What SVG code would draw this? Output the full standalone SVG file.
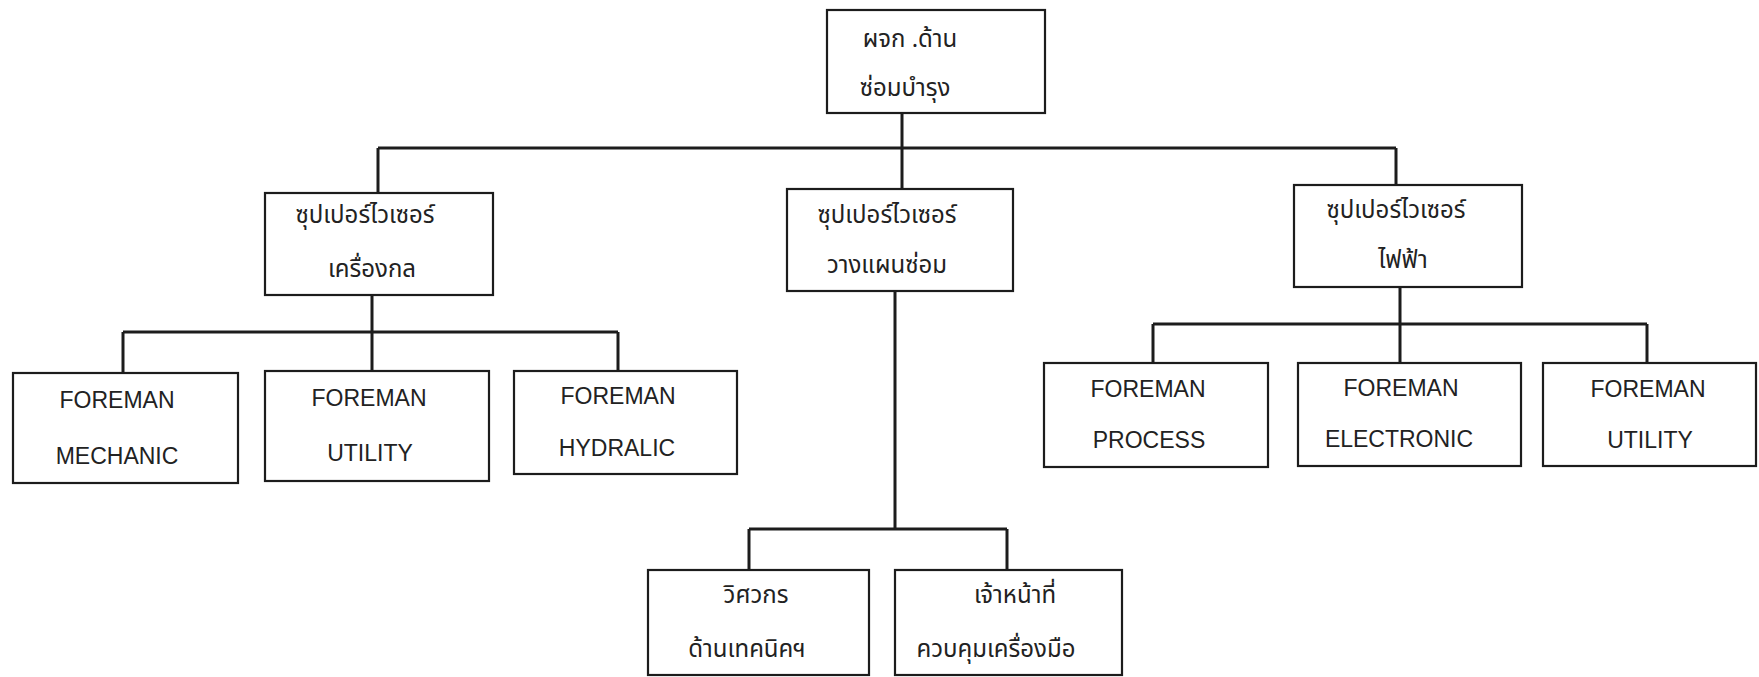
<svg xmlns="http://www.w3.org/2000/svg" width="1759" height="677" viewBox="0 0 1759 677">
<style>
.box{fill:none;stroke:#1c1c1c;stroke-width:2.2}
.con{fill:none;stroke:#1c1c1c;stroke-width:3}
.en{font-family:"Liberation Sans",Arial,sans-serif;font-size:23px;fill:#222;text-anchor:middle}
.th{font-family:"Noto Sans Thai","Noto Sans","Liberation Sans",sans-serif;font-size:24px;fill:#222;text-anchor:middle}
</style>
<rect x="0" y="0" width="1759" height="677" fill="#ffffff"/>
<g id="connectors">
<path class="con" d="M902 113V148M378 148H1396M378 148V193M902 148V189M1396 148V185"/>
<path class="con" d="M372 295V371M123 332H618M123 332V373M618 332V371"/>
<path class="con" d="M1400 287V363M1153 324H1647M1153 324V363M1647 324V363"/>
<path class="con" d="M895 291V529M749 529H1007M749 529V570M1007 529V570"/>
</g>
<g id="n-top"><rect class="box" x="827" y="10" width="218" height="103"/><text class="th" x="910" y="47">ผจก .ด้าน</text><text class="th" x="905" y="96">ซ่อมบำรุง</text></g>
<g id="n-sup-mech"><rect class="box" x="265" y="193" width="228" height="102"/><text class="th" x="365" y="223">ซุปเปอร์ไวเซอร์</text><text class="th" x="372" y="277">เครื่องกล</text></g>
<g id="n-sup-plan"><rect class="box" x="787" y="189" width="226" height="102"/><text class="th" x="887" y="223">ซุปเปอร์ไวเซอร์</text><text class="th" x="887" y="273">วางแผนซ่อม</text></g>
<g id="n-sup-elec"><rect class="box" x="1294" y="185" width="228" height="102"/><text class="th" x="1396" y="218">ซุปเปอร์ไวเซอร์</text><text class="th" x="1403" y="268">ไฟฟ้า</text></g>
<g id="n-fm-mechanic"><rect class="box" x="13" y="373" width="225" height="110"/><text class="en" x="117" y="408">FOREMAN</text><text class="en" x="117" y="464">MECHANIC</text></g>
<g id="n-fm-utility1"><rect class="box" x="265" y="371" width="224" height="110"/><text class="en" x="369" y="406">FOREMAN</text><text class="en" x="370" y="461">UTILITY</text></g>
<g id="n-fm-hydralic"><rect class="box" x="514" y="371" width="223" height="103"/><text class="en" x="618" y="404">FOREMAN</text><text class="en" x="617" y="456">HYDRALIC</text></g>
<g id="n-fm-process"><rect class="box" x="1044" y="363" width="224" height="104"/><text class="en" x="1148" y="397">FOREMAN</text><text class="en" x="1149" y="448">PROCESS</text></g>
<g id="n-fm-electronic"><rect class="box" x="1298" y="363" width="223" height="103"/><text class="en" x="1401" y="396">FOREMAN</text><text class="en" x="1399" y="447">ELECTRONIC</text></g>
<g id="n-fm-utility2"><rect class="box" x="1543" y="363" width="213" height="103"/><text class="en" x="1648" y="397">FOREMAN</text><text class="en" x="1650" y="448">UTILITY</text></g>
<g id="n-engineer"><rect class="box" x="648" y="570" width="221" height="105"/><text class="th" x="756" y="603">วิศวกร</text><text class="th" x="747" y="657">ด้านเทคนิคฯ</text></g>
<g id="n-tool"><rect class="box" x="895" y="570" width="227" height="105"/><text class="th" x="1015" y="603">เจ้าหน้าที่</text><text class="th" x="996" y="657">ควบคุมเครื่องมือ</text></g>
</svg>
